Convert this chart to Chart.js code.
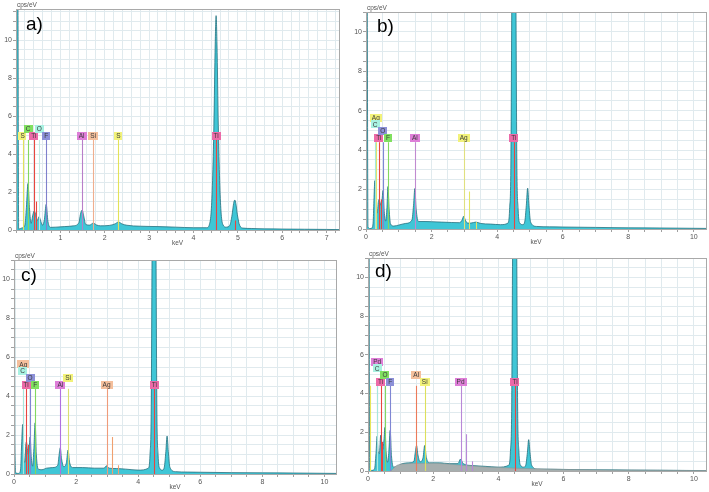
<!DOCTYPE html>
<html>
<head>
<meta charset="utf-8">
<script src="https://cdn.jsdelivr.net/npm/chart.js@4.4.0/dist/chart.umd.min.js"></script>
<style>
  body { margin: 0; background: #fff; width: 709px; height: 492px; overflow: hidden; position: relative; }
  canvas { position: absolute; }
  #pa { left: 0; top: 0; }
  #pb { left: 354px; top: 0; }
  #pc { left: 0; top: 246px; }
  #pd { left: 354px; top: 246px; }
</style>
</head>
<body>
<canvas id="pa" width="354" height="246"></canvas>
<canvas id="pb" width="355" height="246"></canvas>
<canvas id="pc" width="354" height="246"></canvas>
<canvas id="pd" width="355" height="246"></canvas>
<script>
// ---- spectra (keV, cps/eV) ----
const aEnergy = [0, 0.04, 0.06, 0.1, 0.15, 0.2, 0.235, 0.27, 0.305, 0.34,
  0.38, 0.41, 0.44, 0.48, 0.52, 0.56, 0.6, 0.64, 0.68, 0.72,
  0.78, 0.9, 1.1, 1.3, 1.42, 1.45, 1.49, 1.53, 1.57, 1.66,
  1.74, 1.82, 1.9, 2.1, 2.23, 2.31, 2.39, 2.5, 2.8, 3.2,
  3.6, 4.0, 4.3, 4.36, 4.4, 4.43, 4.46, 4.49, 4.51, 4.53,
  4.56, 4.59, 4.62, 4.66, 4.74, 4.82, 4.87, 4.905, 4.93, 4.955,
  4.99, 5.04, 5.12, 5.3, 5.6, 6.0, 6.5, 7.0, 7.28];
const aCounts = [14, 14, 0.05, 0.08, 0.12, 0.25, 1.2, 2.45, 1.1, 0.35,
  0.8, 1.0, 0.85, 0.5, 0.7, 0.45, 0.25, 0.55, 1.35, 0.45,
  0.14, 0.15, 0.18, 0.22, 0.4, 0.8, 1.05, 0.7, 0.3, 0.26,
  0.36, 0.26, 0.22, 0.24, 0.32, 0.42, 0.32, 0.25, 0.2, 0.18,
  0.15, 0.12, 0.12, 0.3, 1.0, 2.6, 5.5, 9.8, 11.3, 9.8,
  5.5, 2.6, 1.0, 0.3, 0.15, 0.25, 0.8, 1.4, 1.58, 1.4,
  0.8, 0.25, 0.1, 0.08, 0.06, 0.05, 0.04, 0.03, 0.02];

const bEnergy = [0, 0.03, 0.06, 0.12, 0.18, 0.22, 0.245, 0.27, 0.3, 0.34,
  0.38, 0.4, 0.43, 0.46, 0.49, 0.52, 0.555, 0.6, 0.64, 0.67,
  0.705, 0.75, 0.85, 1.0, 1.2, 1.4, 1.45, 1.49, 1.53, 1.6,
  1.8, 2.0, 2.3, 2.6, 2.85, 2.93, 2.98, 3.03, 3.1, 3.2,
  3.35, 3.5, 3.8, 4.1, 4.33, 4.38, 4.42, 4.445, 4.48, 4.51,
  4.54, 4.575, 4.6, 4.64, 4.69, 4.78, 4.84, 4.89, 4.93, 4.97,
  5.02, 5.2, 5.6, 6.0, 7.0, 8.0, 9.0, 10.37];
const bCounts = [14, 14, 0.1, 0.02, 0.05, 0.4, 1.6, 2.45, 1.0, 0.8,
  1.4, 1.5, 1.35, 1.2, 1.5, 1.95, 0.9, 0.4, 1.1, 2.15,
  1.0, 0.25, 0.15, 0.2, 0.28, 0.45, 1.2, 2.05, 1.0, 0.38,
  0.38, 0.37, 0.35, 0.33, 0.32, 0.45, 0.65, 0.45, 0.3, 0.3,
  0.35, 0.28, 0.25, 0.22, 0.3, 1.0, 3.5, 11, 20, 24,
  20, 11, 3.5, 1.0, 0.3, 0.22, 0.35, 1.2, 2.07, 1.2,
  0.35, 0.13, 0.11, 0.1, 0.08, 0.06, 0.05, 0.03];

const cEnergy = [0, 0.015, 0.03, 0.06, 0.15, 0.21, 0.245, 0.28, 0.31, 0.35,
  0.38, 0.4, 0.43, 0.46, 0.49, 0.52, 0.555, 0.6, 0.64, 0.68,
  0.72, 0.78, 0.9, 1.05, 1.25, 1.41, 1.45, 1.49, 1.53, 1.6,
  1.69, 1.74, 1.79, 1.9, 2.2, 2.6, 2.9, 2.98, 3.06, 3.3,
  3.6, 4.0, 4.33, 4.38, 4.42, 4.445, 4.48, 4.51, 4.54, 4.575,
  4.6, 4.64, 4.69, 4.78, 4.84, 4.89, 4.93, 4.97, 5.02, 5.2,
  5.6, 6.0, 7.0, 8.0, 9.0, 10.37];
const cCounts = [14, 14, 1.6, 0.05, 0.03, 0.2, 1.5, 2.55, 1.0, 0.6,
  1.5, 1.65, 1.3, 1.0, 1.4, 1.9, 0.9, 0.4, 1.3, 2.63,
  1.0, 0.25, 0.22, 0.3, 0.33, 0.45, 0.95, 1.35, 0.8, 0.38,
  0.6, 1.23, 0.6, 0.33, 0.33, 0.3, 0.3, 0.42, 0.3, 0.28,
  0.25, 0.2, 0.3, 1.0, 3.5, 11, 20, 24, 20, 11,
  3.5, 1.0, 0.3, 0.2, 0.35, 1.15, 1.95, 1.15, 0.35, 0.12,
  0.1, 0.09, 0.07, 0.06, 0.05, 0.03];

const dEnergy = [0, 0.03, 0.05, 0.1, 0.2, 0.245, 0.28, 0.31, 0.35, 0.39,
  0.42, 0.45, 0.49, 0.52, 0.555, 0.6, 0.64, 0.68, 0.72, 0.78,
  0.9, 1.05, 1.25, 1.41, 1.45, 1.49, 1.53, 1.6, 1.69, 1.74,
  1.79, 1.9, 2.2, 2.5, 2.76, 2.84, 2.92, 3.2, 3.6, 4.0,
  4.32, 4.37, 4.41, 4.435, 4.47, 4.5, 4.53, 4.565, 4.59, 4.63,
  4.68, 4.78, 4.84, 4.89, 4.93, 4.97, 5.02, 5.2, 5.6, 6.0,
  7.0, 8.0, 9.0, 10.37];
const dCounts = [14, 14, 0.1, 0.03, 0.1, 0.9, 1.8, 1.0, 0.9, 1.85,
  1.3, 1.1, 1.6, 2.25, 1.0, 0.45, 1.0, 2.1, 0.8, 0.2,
  0.25, 0.38, 0.42, 0.5, 0.95, 1.32, 0.85, 0.48, 0.7, 1.32,
  0.7, 0.42, 0.42, 0.38, 0.38, 0.62, 0.38, 0.28, 0.24, 0.2,
  0.3, 1.0, 3.5, 11, 20, 24, 20, 11, 3.5, 1.0,
  0.3, 0.2, 0.3, 0.95, 1.62, 0.95, 0.3, 0.1, 0.09, 0.08,
  0.06, 0.05, 0.04, 0.02];
// fitted background shown in grey in panel d
const dBgEnergy = [0.7, 0.9, 1.2, 1.6, 2.0, 2.6, 3.0, 3.5, 4.0, 5.0, 6.0, 8.0, 10.37];
const dBgCounts = [0, 0.3, 0.38, 0.4, 0.4, 0.34, 0.28, 0.22, 0.18, 0.12, 0.08, 0.04, 0.02];

// ---- element markers: label, line energy (keV), label height (cps/eV) ----
const aElements = ['S', 'C', 'Ti', 'O', 'F', 'Al', 'Si', 'S', 'Ti'];
const aLines = [0.15, 0.27, 0.40, 0.525, 0.68, 1.48, 1.74, 2.31, 4.51];
const aLevels = [4.96, 5.32, 4.96, 5.32, 4.96, 4.96, 4.96, 4.96, 4.96];
const bElements = ['Ag', 'C', 'Ti', 'O', 'F', 'Al', 'Ag', 'Ti'];
const bLines = [0.30, 0.28, 0.39, 0.51, 0.67, 1.49, 2.98, 4.51];
const bLevels = [5.63, 5.3, 4.62, 4.96, 4.62, 4.62, 4.62, 4.62];
const cElements = ['Ag', 'C', 'Ti', 'O', 'F', 'Al', 'Si', 'Ag', 'Ti'];
const cLines = [0.30, 0.28, 0.39, 0.52, 0.68, 1.49, 1.74, 2.98, 4.52];
const cLevels = [5.63, 5.29, 4.6, 4.95, 4.6, 4.6, 4.95, 4.6, 4.6];
const dElements = ['Pd', 'C', 'Ti', 'O', 'F', 'Al', 'Si', 'Pd', 'Ti'];
const dLines = [0.28, 0.28, 0.39, 0.52, 0.68, 1.48, 1.74, 2.84, 4.51];
const dLevels = [5.64, 5.3, 4.62, 4.96, 4.62, 4.96, 4.62, 4.62, 4.62];

// unlabelled secondary lines: energy (keV) and height (cps/eV)
const aMinorLines = [0.45, 4.93];
const aMinorHeights = [1.5, 0.5];
const bMinorLines = [0.45, 3.15, 3.35];
const bMinorHeights = [1.5, 1.9, 0.35];
const cMinorLines = [0.45, 3.15, 3.35];
const cMinorHeights = [1.5, 1.9, 0.45];
const dMinorLines = [0.07, 0.44, 3.0, 3.18];
const dMinorHeights = [4.4, 1.5, 1.9, 0.5];

// ---- colours ----
const YEL = '#f2f27a', GRN = '#80e060', PNK = '#ec6aa8', AQU = '#a8f2e2', BLU = '#8c90d8', VIO = '#de7ed8', PCH = '#f4bf9c';
const RED = '#e8453f';
const aLabelCol = [YEL, GRN, PNK, AQU, BLU, VIO, PCH, YEL, PNK];
const aLineCol = ['#e2e25a', '#82d860', RED, '#c2eae4', '#8080cc', '#b87fc9', '#efae8e', '#e2e25a', RED];
const bLabelCol = [YEL, AQU, PNK, BLU, GRN, VIO, YEL, PNK];
const bLineCol = ['#e4e466', '#a6e8dc', RED, '#7f86d4', '#82d860', '#c08ad0', '#e0e080', RED];
const cLabelCol = [PCH, AQU, PNK, BLU, GRN, VIO, YEL, PCH, PNK];
const cLineCol = ['#ef9c7a', '#a6e8dc', RED, '#7f86d4', '#82d860', '#b070e0', '#d9e070', '#ef9c7a', RED];
const dLabelCol = [VIO, AQU, PNK, GRN, BLU, PCH, YEL, VIO, PNK];
const dLineCol = ['#c89ad8', '#a6e8dc', RED, '#82d860', '#7f86d4', '#ec7a5a', '#dce05c', '#b888d8', RED];
const aMinorCol = [RED, RED];
const bMinorCol = [RED, '#e4e466', '#e4e466'];
const cMinorCol = [RED, '#f0a070', '#f0a070'];
const dMinorCol = ['#e6e65a', RED, '#b888d8', '#b888d8'];

const FILL = '#3fc6d6';
const EDGE = '#24707e';

const panels = {
  pa: { letter: 'a)', E: aEnergy, C: aCounts, xMax: 7.28, yMax: 11.65, xStep: 0.2, xEvery: 1, zero: false,
        yW: 16, xH: 16, top: 9, right: 15, lineTop: 4.75, letterAt: [10, 6],
        el: aElements, lines: aLines, lev: aLevels, lc: aLabelCol, kc: aLineCol,
        mi: aMinorLines, mh: aMinorHeights, mc: aMinorCol },
  pb: { letter: 'b)', E: bEnergy, C: bCounts, xMax: 10.37, yMax: 11, xStep: 0.5, xEvery: 2, zero: true,
        yW: 12, xH: 17, top: 12, right: 3, lineTop: 4.4, letterAt: [11, 5],
        el: bElements, lines: bLines, lev: bLevels, lc: bLabelCol, kc: bLineCol,
        mi: bMinorLines, mh: bMinorHeights, mc: bMinorCol },
  pc: { letter: 'c)', E: cEnergy, C: cCounts, xMax: 10.37, yMax: 11, xStep: 0.5, xEvery: 2, zero: true,
        yW: 14, xH: 18, top: 14, right: 18, lineTop: 4.38, letterAt: [7, 6],
        el: cElements, lines: cLines, lev: cLevels, lc: cLabelCol, kc: cLineCol,
        mi: cMinorLines, mh: cMinorHeights, mc: cMinorCol },
  pd: { letter: 'd)', E: dEnergy, C: dCounts, xMax: 10.37, yMax: 11, xStep: 0.5, xEvery: 2, zero: true,
        yW: 14, xH: 21, top: 12, right: 3, lineTop: 4.4, letterAt: [7, 4],
        el: dElements, lines: dLines, lev: dLevels, lc: dLabelCol, kc: dLineCol,
        mi: dMinorLines, mh: dMinorHeights, mc: dMinorCol,
        bgE: dBgEnergy, bgC: dBgCounts }
};

function nearMultiple(v, m) {
  return Math.abs(v / m - Math.round(v / m)) < 1e-6;
}

// element lines, labels, box and titles
const decor = {
  id: 'decor',
  afterDatasetsDraw(chart) {
    const p = panels[chart.canvas.id];
    const ctx = chart.ctx, a = chart.chartArea;
    const xs = chart.scales.x, ys = chart.scales.y;
    ctx.save();
    ctx.beginPath();
    ctx.rect(a.left, a.top, a.right - a.left, a.bottom - a.top);
    ctx.clip();
    const y0 = ys.getPixelForValue(0);
    ctx.lineWidth = 1.1;
    p.mi.forEach((e, i) => {
      const x = Math.round(xs.getPixelForValue(e)) + 0.5;
      ctx.strokeStyle = p.mc[i];
      ctx.beginPath();
      ctx.moveTo(x, y0);
      ctx.lineTo(x, ys.getPixelForValue(p.mh[i]));
      ctx.stroke();
    });
    const yTop = ys.getPixelForValue(p.lineTop);
    p.lines.forEach((e, i) => {
      const x = Math.round(xs.getPixelForValue(e)) + 0.5;
      ctx.strokeStyle = p.kc[i];
      ctx.beginPath();
      ctx.moveTo(x, y0);
      ctx.lineTo(x, yTop);
      ctx.stroke();
    });
    ctx.font = '6.5px "Liberation Sans", Arial, sans-serif';
    ctx.textAlign = 'center';
    ctx.textBaseline = 'middle';
    p.el.forEach((name, i) => {
      const x = xs.getPixelForValue(p.lines[i]);
      const y = ys.getPixelForValue(p.lev[i]);
      const w = Math.max(7.5, ctx.measureText(name).width + 4);
      ctx.fillStyle = p.lc[i];
      ctx.fillRect(Math.round(x - w / 2), Math.round(y - 4), Math.round(w), 8);
      ctx.fillStyle = '#3a3a3a';
      ctx.fillText(name, x, y + 0.5);
    });
    ctx.restore();
  },
  afterDraw(chart) {
    const p = panels[chart.canvas.id];
    const ctx = chart.ctx, a = chart.chartArea;
    ctx.save();
    ctx.strokeStyle = '#a9a9a9';
    ctx.lineWidth = 1;
    ctx.strokeRect(Math.round(a.left) + 0.5, Math.round(a.top) + 0.5,
                   Math.round(a.right - a.left), Math.round(a.bottom - a.top));
    ctx.fillStyle = '#555';
    ctx.font = '6.5px "Liberation Sans", Arial, sans-serif';
    ctx.textAlign = 'left';
    ctx.textBaseline = 'bottom';
    ctx.fillText('cps/eV', a.left + 1, a.top - 1);
    ctx.textAlign = 'center';
    ctx.textBaseline = 'top';
    ctx.fillText('keV', (a.left + a.right) / 2, a.bottom + 10);
    ctx.fillStyle = '#000';
    ctx.font = '19px "Liberation Sans", Arial, sans-serif';
    ctx.textAlign = 'left';
    ctx.fillText(p.letter, a.left + p.letterAt[0], a.top + p.letterAt[1]);
    ctx.restore();
  }
};

Object.keys(panels).forEach(id => {
  const p = panels[id];
  const datasets = [];
  if (p.bgE) {
    datasets.push({
      data: p.bgE.map((e, i) => ({ x: e, y: p.bgC[i] })),
      backgroundColor: '#a6aeae', borderColor: '#8a9696', borderWidth: 0.6,
      fill: 'origin', pointRadius: 0, cubicInterpolationMode: 'monotone', order: 0
    });
  }
  datasets.push({
    data: p.E.map((e, i) => ({ x: e, y: p.C[i] })),
    backgroundColor: FILL, borderColor: EDGE, borderWidth: 0.8,
    fill: 'origin', pointRadius: 0, cubicInterpolationMode: 'monotone', order: 1
  });

  new Chart(document.getElementById(id), {
    type: 'line',
    data: { datasets },
    plugins: [decor],
    options: {
      responsive: false,
      animation: false,
      devicePixelRatio: 1,
      layout: { autoPadding: false, padding: { left: 0, right: p.right, top: p.top, bottom: 0 } },
      plugins: { legend: { display: false }, tooltip: { enabled: false } },
      scales: {
        x: {
          type: 'linear', min: 0, max: p.xMax,
          ticks: {
            stepSize: p.xStep, includeBounds: false, autoSkip: false, maxRotation: 0,
            font: { size: 7, family: '"Liberation Sans", Arial, sans-serif' }, color: '#555', padding: 1,
            callback: v => (nearMultiple(v, p.xEvery) && (p.zero || v > 0.01)) ? String(Math.round(v)) : ''
          },
          grid: { color: '#e0eaee', tickLength: 3, tickColor: '#a0a0a0' },
          border: { display: false },
          afterFit(s) { s.height = p.xH; }
        },
        y: {
          min: 0, max: p.yMax,
          ticks: {
            stepSize: 0.5, includeBounds: false, autoSkip: false,
            font: { size: 7, family: '"Liberation Sans", Arial, sans-serif' }, color: '#555', padding: 1,
            callback: v => nearMultiple(v, 2) ? String(Math.round(v)) : ''
          },
          grid: { color: '#e0eaee', tickLength: 3, tickColor: '#a0a0a0' },
          border: { display: false },
          afterFit(s) { s.width = p.yW; }
        }
      }
    }
  });
});
</script>
</body>
</html>
